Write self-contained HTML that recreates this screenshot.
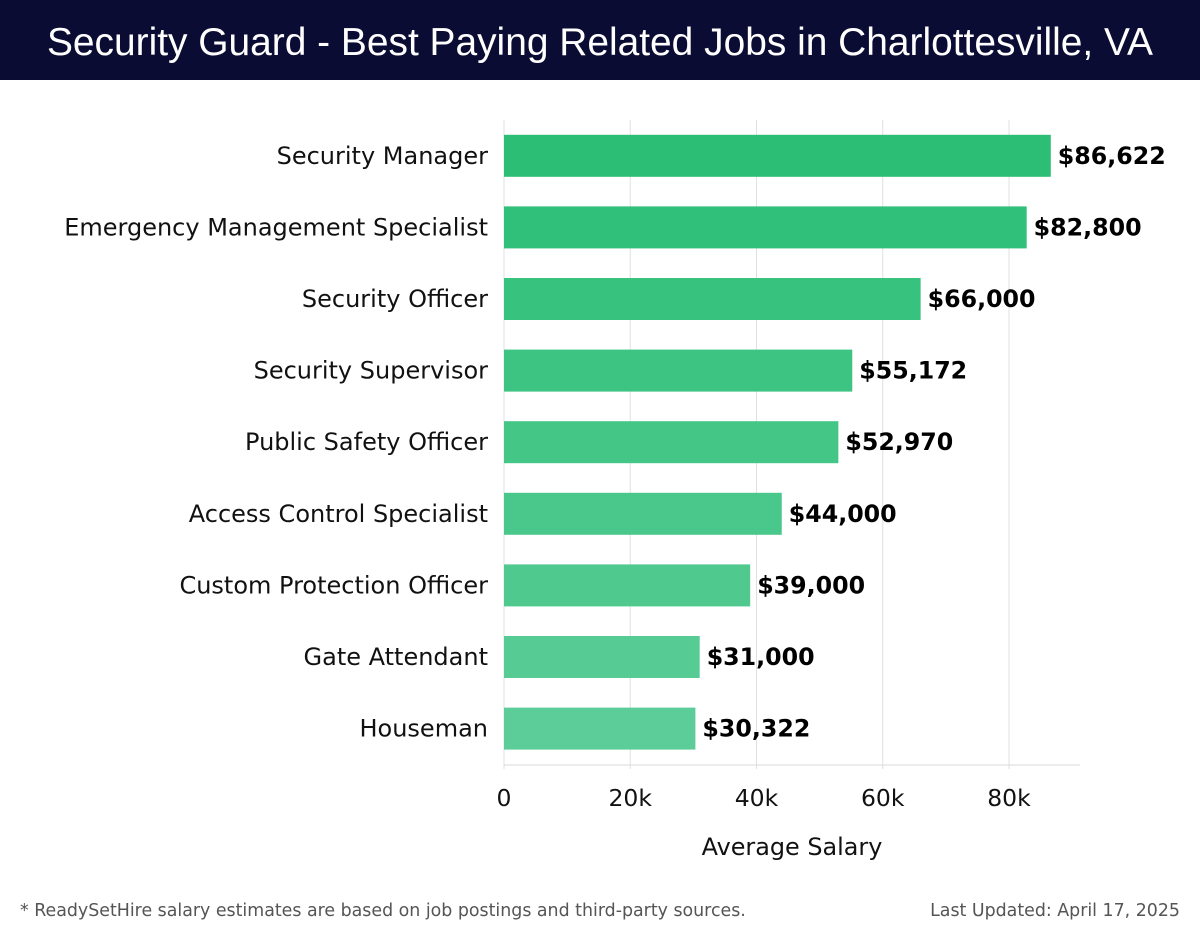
<!DOCTYPE html>
<html><head><meta charset="utf-8"><style>
body{margin:0;width:1200px;height:940px;background:#fff;font-family:"DejaVu Sans","Liberation Sans",sans-serif;overflow:hidden;position:relative}
#hdr{position:absolute;left:0;top:0;width:1200px;height:80px;background:#0b0c33;color:#fff;font-family:"Liberation Sans",sans-serif;font-size:38.9px;text-align:center;line-height:86px}
.foot{position:absolute;top:901px;font-size:17.4px;color:#555}
</style></head><body>
<div id="hdr">Security Guard - Best Paying Related Jobs in Charlottesville, VA</div>
<svg id="chart" width="1200" height="890" style="position:absolute;left:0;top:0"></svg>
<div class="foot" style="left:20px">* ReadySetHire salary estimates are based on job postings and third-party sources.</div>
<div class="foot" style="right:20px">Last Updated: April 17, 2025</div>
<script>
const categories=["Security Manager","Emergency Management Specialist","Security Officer","Security Supervisor","Public Safety Officer","Access Control Specialist","Custom Protection Officer","Gate Attendant","Houseman"];
const values=[86622,82800,66000,55172,52970,44000,39000,31000,30322];
const tickValues=[0,20000,40000,60000,80000];
const tickLabels=["0","20k","40k","60k","80k"];
const svg=document.getElementById('chart');
const NS="http://www.w3.org/2000/svg";
const x0=504,pxPer=505/80000,top0=120,bandH=71.6,barH=42,axisY=765;
const x=v=>x0+v*pxPer;
const y=i=>top0+i*bandH+bandH/2;
function mk(t,a){const e=document.createElementNS(NS,t);for(const k in a)e.setAttribute(k,a[k]);svg.appendChild(e);return e;}
tickValues.forEach((v,i)=>{
 const g=mk('line',{x1:x(v),x2:x(v),y1:top0,y2:axisY+4,stroke:'#e0e0e0','stroke-width':1});
 
 
 const t=mk('text',{x:x(v),y:axisY+41,'text-anchor':'middle','font-size':23.5,fill:'#111'});
 t.textContent=tickLabels[i];
 
 
});
const ax=mk('line',{x1:x0,x2:1080,y1:axisY,y2:axisY,stroke:'#d8d8d8','stroke-width':1});


categories.forEach((c,i)=>{
 const f=i/(categories.length-1);
 const col=`rgb(${Math.round(43+f*49)},${Math.round(190+f*15)},${Math.round(116+f*36)})`;
 const b=mk('rect',{x:x0,y:y(i)-barH/2,width:x(values[i])-x0,height:barH,fill:col});
 
 
 const l=mk('text',{x:488,y:y(i)+8,'text-anchor':'end','font-size':24,fill:'#111'});
 l.textContent=c;
 
 
 const v=mk('text',{x:x(values[i])+7,y:y(i)+8,'font-size':23.7,'font-weight':'bold',fill:'#000'});
 v.textContent='$'+values[i].toLocaleString('en-US');
 
 
});
const at=mk('text',{x:792,y:855,'text-anchor':'middle','font-size':23.9,fill:'#111'});
at.textContent='Average Salary';


</script>
</body></html>
